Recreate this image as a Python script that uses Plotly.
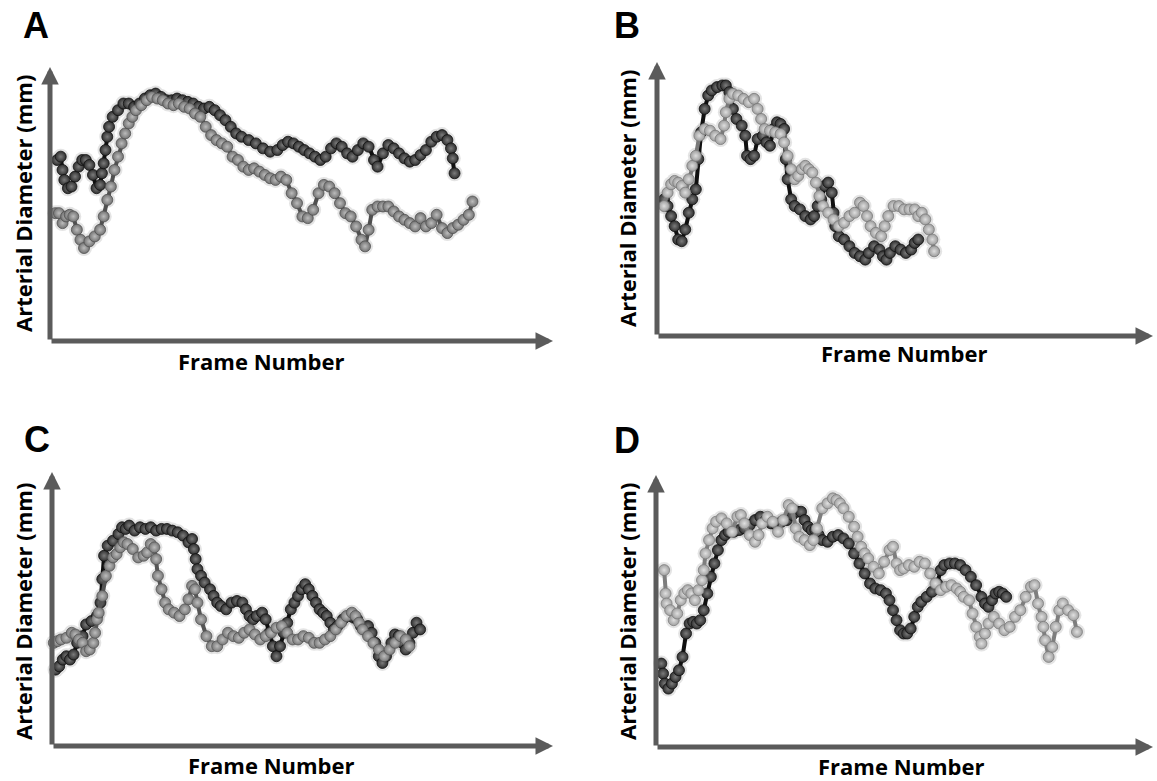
import plotly.graph_objects as go

# ---------------- data (arbitrary units: frame index, diameter) ----------------
A_DARK_FRAME = [20,30,35,40,50,60,70,80,90,100,110,120,130,140,145,150,155,160,165,175,190,205,220,235,250,265,280,295,310,325,340,355,370,385,400,415,430,445,460,475,490,505,520,535,555,575,595,615,635,650,665,680,695,710,725,740,755,770,785,800,815,830,845,860,875,890,905,915,930,945,960,975,990,1005,1020,1035,1050,1065,1080,1095,1110,1120,1125,1130]
A_DARK_DIAM = [545,555,515,485,460,465,495,525,545,545,530,500,460,470,505,535,575,615,645,675,695,715,715,705,715,730,740,745,735,725,725,730,725,720,715,705,700,705,695,680,665,645,625,615,605,595,580,570,575,590,600,595,585,575,565,555,545,555,580,595,585,565,555,575,595,585,545,525,565,590,580,565,550,540,545,560,575,600,615,620,605,580,550,505]
A_LIGHT_FRAME = [15,25,35,45,55,65,75,85,95,110,125,140,150,160,170,180,190,200,210,220,230,240,255,270,285,300,315,330,345,360,375,390,405,420,435,450,465,480,495,510,525,540,555,570,585,600,615,630,645,660,675,690,705,720,735,750,765,780,795,810,825,840,855,870,880,890,900,915,930,945,960,975,990,1005,1020,1035,1050,1065,1080,1095,1110,1125,1140,1155,1170,1180]
A_LIGHT_DIAM = [385,385,355,375,380,375,335,305,280,300,315,335,375,425,465,515,555,595,625,655,675,695,710,725,735,730,725,715,710,715,705,700,685,675,645,620,605,595,585,555,545,525,515,520,510,500,490,485,495,485,445,415,375,370,395,445,470,465,445,415,385,375,345,305,285,335,395,405,405,405,390,375,365,355,345,370,345,355,380,340,325,340,350,365,380,420]

B_DARK_FRAME = [20,30,40,50,60,70,80,90,100,110,117,125,135,145,155,170,185,195,205,215,225,240,250,255,265,275,285,300,310,320,330,340,350,360,365,370,380,390,405,420,435,445,455,465,475,485,495,500,505,515,530,545,560,575,590,600,615,630,640,650,660,675,690,705,720,730,740]
B_DARK_DIAM = [408,388,358,328,288,283,318,368,408,438,528,608,678,718,733,743,748,748,728,678,648,628,598,538,528,538,588,598,578,568,618,638,633,618,528,468,408,388,378,358,348,358,388,408,448,458,428,368,328,298,288,268,248,238,228,248,268,258,238,228,248,268,258,248,258,278,288]
B_LIGHT_FRAME = [20,30,40,50,60,70,80,90,100,110,120,135,150,165,180,190,195,205,215,230,245,260,275,285,295,305,320,335,350,360,370,380,390,400,410,420,430,440,450,460,470,485,500,515,530,545,560,575,585,595,605,620,635,645,655,670,685,700,715,730,740,750,760,770,780,785]
B_LIGHT_DIAM = [388,428,453,463,458,448,428,468,508,538,598,618,613,598,588,628,668,708,723,718,708,698,708,678,648,618,613,608,603,578,538,498,468,478,498,508,498,488,458,418,388,368,348,328,338,358,368,398,388,358,328,308,298,328,358,388,388,378,378,378,358,368,348,318,288,253]

C_DARK_FRAME = [10,20,30,40,50,60,70,85,95,110,125,135,140,145,155,170,185,195,205,215,230,245,260,275,290,305,320,335,350,365,380,390,395,400,405,415,425,440,450,460,470,485,500,515,530,540,550,560,570,585,595,605,615,625,635,645,655,665,675,685,695,705,715,725,735,745,755,765,775,785,795,810,825,840,850,860,870,880,890,900,910,920,930,945,955,965,975,985,995,1005,1015,1025]
C_DARK_DIAM = [228,238,258,268,258,273,308,328,363,373,388,428,498,568,598,613,633,653,648,658,643,653,648,653,643,648,648,643,638,628,608,618,588,558,528,508,488,468,448,428,418,408,428,433,428,408,388,378,388,398,378,338,298,268,298,338,368,408,428,448,468,483,468,448,428,408,398,388,368,348,358,378,388,383,378,358,348,358,338,308,268,248,268,308,333,328,308,288,308,338,368,348]
C_LIGHT_FRAME = [5,15,25,40,55,65,75,85,95,105,115,120,125,130,140,150,160,170,180,190,200,210,225,240,255,265,275,285,290,295,305,315,325,340,355,370,380,390,398,405,415,430,445,460,475,490,505,520,535,550,565,580,595,610,625,640,655,670,685,700,715,730,745,760,775,790,805,820,835,845,855,865,880,895,910,925,940,955,970,985,995]
C_LIGHT_DIAM = [308,313,318,323,338,333,318,308,283,288,308,338,378,398,448,508,538,563,573,593,608,603,588,563,568,578,603,593,558,508,468,428,408,398,388,408,438,478,468,428,378,328,298,298,318,338,328,323,338,348,333,318,328,338,353,358,338,318,318,328,323,308,308,318,328,348,368,388,398,388,368,348,328,308,288,268,288,308,328,318,298]

D_DARK_FRAME = [15,20,25,35,45,55,65,75,85,95,105,115,125,135,145,155,165,175,185,195,205,220,235,250,265,280,295,310,325,340,355,370,385,400,410,420,430,440,450,460,470,485,500,515,530,545,560,575,590,605,620,635,650,660,670,680,690,700,710,720,730,740,750,765,780,795,805,815,830,845,860,875,890,905,920,930,940,950,960,970,980,990]
D_DARK_DIAM = [250,220,190,175,190,210,230,270,340,370,375,370,380,410,460,510,550,590,620,635,645,645,650,655,665,680,690,680,670,665,675,680,695,705,705,680,660,650,650,635,620,615,630,635,625,610,580,550,520,490,475,470,460,440,410,380,350,340,340,355,390,420,435,450,465,490,530,545,550,550,545,530,510,485,450,430,420,440,460,465,460,450]
D_LIGHT_FRAME = [23,27,30,40,50,60,70,80,90,100,110,120,130,135,140,150,160,170,185,200,215,230,240,250,265,280,290,300,315,330,345,360,375,385,395,405,420,435,445,455,470,485,500,510,520,530,545,560,570,580,590,600,615,630,645,660,670,680,690,700,715,730,745,760,775,790,805,820,835,850,860,870,885,895,905,915,920,930,940,955,970,985,1000,1015,1030,1045,1060,1070,1080,1090,1095,1100,1110,1120,1130,1140,1150,1165,1180,1190]
D_LIGHT_DIAM = [530,460,430,410,380,400,440,460,470,460,440,470,500,530,580,620,655,675,685,670,645,690,695,670,635,615,635,670,690,675,645,680,725,715,655,630,620,605,620,655,715,730,745,740,730,715,690,660,630,600,580,565,540,520,555,590,600,550,530,535,545,540,555,550,520,490,470,480,485,475,465,450,440,400,360,330,310,340,370,390,370,350,360,390,410,450,480,485,430,390,360,320,270,300,360,410,430,410,395,345]

PANEL_LETTERS = ["A", "B", "C", "D"]
X_TITLE = "Frame Number"
Y_TITLE = "Arterial Diameter (mm)"

# ---------------- layout geometry (pixels in a 1157 x 781 canvas) ----------------
W, H = 1157, 781
PANELS = [
    dict(l=50, r=553, t=67, b=341, xr=1405, yr=825,
         dark=(A_DARK_FRAME, A_DARK_DIAM), light=(A_LIGHT_FRAME, A_LIGHT_DIAM),
         light_col=("#727272", "#bcbcbc", "#505050"),
         letter=(36, 26), ytitle=(23, 204), xtitle=(261, 361)),
    dict(l=657, r=1153, t=62, b=336, xr=1405, yr=818,
         dark=(B_DARK_FRAME, B_DARK_DIAM), light=(B_LIGHT_FRAME, B_LIGHT_DIAM),
         light_col=("#9c9c9c", "#dedede", "#7a7a7a"),
         letter=(627, 26), ytitle=(627, 199), xtitle=(904, 353)),
    dict(l=52, r=553, t=472, b=746, xr=1395, yr=818,
         dark=(C_DARK_FRAME, C_DARK_DIAM), light=(C_LIGHT_FRAME, C_LIGHT_DIAM),
         light_col=("#767676", "#bdbdbd", "#555555"),
         letter=(37, 439), ytitle=(23, 612), xtitle=(271, 765)),
    dict(l=656, r=1153, t=475, b=747, xr=1405, yr=815,
         dark=(D_DARK_FRAME, D_DARK_DIAM), light=(D_LIGHT_FRAME, D_LIGHT_DIAM),
         light_col=("#a0a0a0", "#e0e0e0", "#7e7e7e"),
         letter=(627, 440), ytitle=(627, 612), xtitle=(901, 766)),
]

AXIS_COLOR = "#5b5b5b"
TITLE_FONT = dict(family="Open Sans, Lato, sans-serif", size=22, color="#000000")
LETTER_FONT = dict(family="Liberation Sans, Arial, sans-serif", size=36, color="#000000")

fig = go.Figure()
annotations = []
layout = {}

for i, p in enumerate(PANELS):
    s = "" if i == 0 else str(i + 1)
    xa, ya = "x" + s, "y" + s
    layout["xaxis" + s] = dict(domain=[p["l"] / W, p["r"] / W], range=[0, p["xr"]],
                               visible=False, anchor=ya, fixedrange=True)
    layout["yaxis" + s] = dict(domain=[1 - p["b"] / H, 1 - p["t"] / H], range=[0, p["yr"]],
                               visible=False, anchor=xa, fixedrange=True)

    series = [
        (p["dark"], ("#2e2e2e", "#7c7c7c", "#101010")),
        (p["light"], p["light_col"]),
    ]
    # soft shadows first
    for (fx, dy), cols in series:
        fig.add_trace(go.Scatter(x=fx, y=dy, xaxis=xa, yaxis=ya, mode="markers",
                                 marker=dict(size=16, color="#000000"),
                                 opacity=0.10, hoverinfo="skip", showlegend=False,
                                 cliponaxis=False))
    for (fx, dy), (edge, center, outline) in series:
        fig.add_trace(go.Scatter(
            x=fx, y=dy, xaxis=xa, yaxis=ya, mode="lines+markers",
            line=dict(color=outline, width=4),
            marker=dict(size=11, color=edge,
                        gradient=dict(type="radial", color=center),
                        line=dict(color=outline, width=0.8)),
            showlegend=False, cliponaxis=False))

    dom_x, dom_y = xa + " domain", ya + " domain"
    annotations.append(dict(xref=dom_x, yref=dom_y, axref=dom_x, ayref=dom_y,
                            x=1, y=0, ax=0, ay=0, text="", showarrow=True,
                            arrowhead=2, arrowsize=0.7, arrowwidth=5,
                            arrowcolor=AXIS_COLOR))
    annotations.append(dict(xref=dom_x, yref=dom_y, axref=dom_x, ayref=dom_y,
                            x=0, y=1, ax=0, ay=0, text="", showarrow=True,
                            arrowhead=2, arrowsize=0.7, arrowwidth=5,
                            arrowcolor=AXIS_COLOR))
    lx, ly = p["letter"]
    annotations.append(dict(xref="paper", yref="paper", x=lx / W, y=1 - ly / H,
                            text="<b>%s</b>" % PANEL_LETTERS[i], showarrow=False,
                            xanchor="center", yanchor="middle", font=LETTER_FONT))
    tx, ty = p["ytitle"]
    annotations.append(dict(xref="paper", yref="paper", x=tx / W, y=1 - ty / H,
                            text="<b>%s</b>" % Y_TITLE, showarrow=False, textangle=-90,
                            xanchor="center", yanchor="middle", font=TITLE_FONT))
    tx, ty = p["xtitle"]
    annotations.append(dict(xref="paper", yref="paper", x=tx / W, y=1 - ty / H,
                            text="<b>%s</b>" % X_TITLE, showarrow=False,
                            xanchor="center", yanchor="middle", font=TITLE_FONT))

fig.update_layout(
    width=W, height=H,
    margin=dict(l=0, r=0, t=0, b=0),
    paper_bgcolor="white", plot_bgcolor="white",
    showlegend=False,
    annotations=annotations,
    **layout,
)

fig.write_html("out.html", config={"displayModeBar": False})
